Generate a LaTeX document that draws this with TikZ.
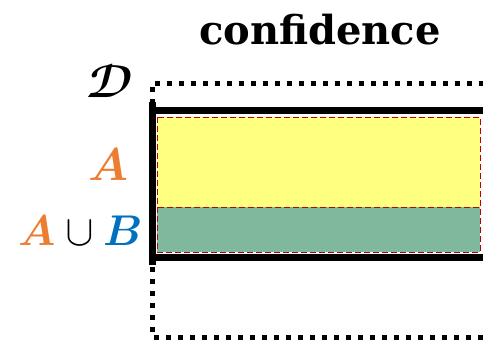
\documentclass[tikz,border=0pt]{standalone}
\usepackage{fontspec}
\usepackage{unicode-math}
\setmathfont{Latin Modern Math}
\newfontfamily\titlefont{DejaVu Serif}
\definecolor{myorange}{HTML}{ED7D31}
\definecolor{myblue}{HTML}{0070C0}
\definecolor{myyellow}{HTML}{FFFF80}
\definecolor{mygreen}{HTML}{80B89E}
\definecolor{myred}{HTML}{C00000}
\tikzset{
  dotbox/.style={line width=5pt, dash pattern=on 5pt off 7pt},
  thickbox/.style={line width=7pt},
  regionA/.style={fill=myyellow, draw=myred, line width=1pt, dash pattern=on 6pt off 3pt},
  regionB/.style={fill=mygreen, draw=myred, line width=1pt, dash pattern=on 6pt off 3pt},
  lbl/.style={inner sep=0pt, anchor=base}
}
\begin{document}
\begin{tikzpicture}[x=1pt,y=-1pt]
\useasboundingbox (0,0) rectangle (483,340);
\clip (0,0) rectangle (483,340);
% dotted box D
\draw[dotbox] (520,83) -- (152,83) -- (152,337) -- (520,337);
% regions
\path[regionA] (157,117) rectangle (480,207);
\path[regionB] (157,207) rectangle (480,252);
% thick box
\draw[thickbox] (520,110) -- (152,110) -- (152,257) -- (520,257);
\draw[line width=7pt] (152,102) -- (152,265);
% labels
\node[lbl, font=\titlefont\bfseries\fontsize{40}{44}\selectfont] (title) at (320,45) {confidence};
\node[lbl] (D) at (110,97) {\fontsize{46}{50}\selectfont$\symbfcal{D}$};
\node[lbl] (A) at (108,180) {\fontsize{46}{50}\selectfont$\color{myorange}\symbfit{A}$};
\node[lbl] (AB) at (80,245) {\fontsize{43}{47}\selectfont$\color{myorange}\symbfit{A}\color{black}\cup\color{myblue}\symbfit{B}$};
\end{tikzpicture}
\end{document}
